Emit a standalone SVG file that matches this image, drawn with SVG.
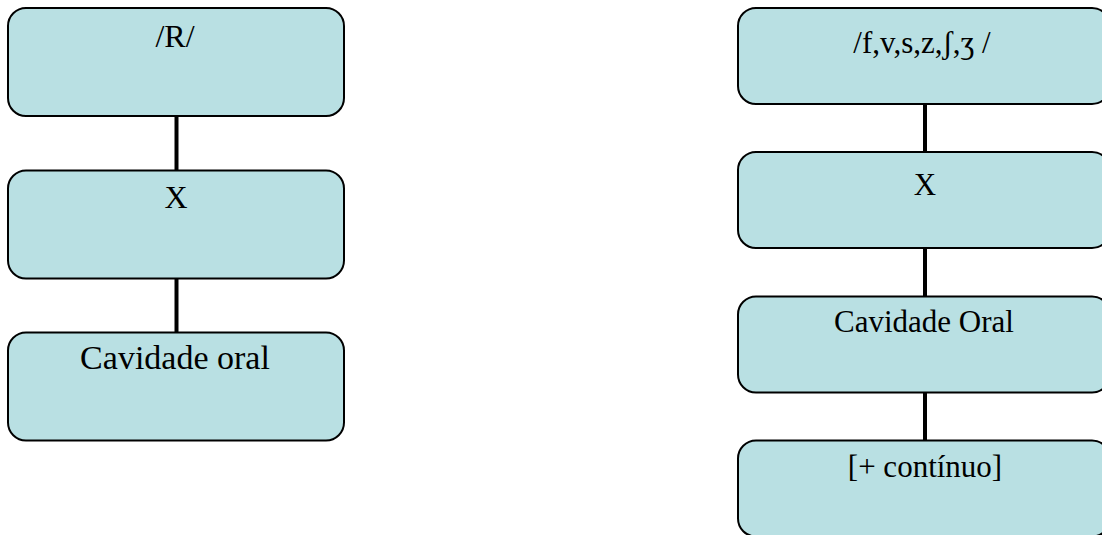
<svg xmlns="http://www.w3.org/2000/svg" width="1102" height="535" viewBox="0 0 1102 535">
<style>
.box{fill:#B9E0E3;stroke:#000;stroke-width:2}
.t{font-family:"Liberation Serif","Times New Roman",serif;fill:#000;text-anchor:middle}
.c{stroke:#000;stroke-width:4;fill:none}
</style>
<rect width="1102" height="535" fill="#fff"/>
<g id="connectors">
<line class="c" x1="176.5" y1="116" x2="176.5" y2="171"/>
<line class="c" x1="176.5" y1="278" x2="176.5" y2="333"/>
<line class="c" x1="925" y1="104" x2="925" y2="152"/>
<line class="c" x1="925" y1="248" x2="925" y2="297"/>
<line class="c" x1="925" y1="392" x2="925" y2="441"/>
</g>
<g id="l1"><rect class="box" x="8" y="8" width="336" height="108" rx="18"/><text class="t" x="175" y="47" font-size="32">/R/</text></g>
<g id="l2"><rect class="box" x="8" y="170.5" width="336" height="108" rx="18"/><text class="t" x="176" y="208" font-size="32">X</text></g>
<g id="l3"><rect class="box" x="8" y="332.5" width="336" height="108" rx="18"/><text class="t" x="175" y="369" font-size="34">Cavidade oral</text></g>
<g id="r1"><rect class="box" x="738" y="8" width="372" height="96" rx="18"/><text class="t" x="922" y="52.5" font-size="31">/f,v,s,z,ʃ,ʒ /</text></g>
<g id="r2"><rect class="box" x="738" y="152" width="372" height="96" rx="18"/><text class="t" x="925" y="195" font-size="31">X</text></g>
<g id="r3"><rect class="box" x="738" y="296.5" width="372" height="96" rx="18"/><text class="t" x="924" y="331.5" font-size="31">Cavidade Oral</text></g>
<g id="r4"><rect class="box" x="738" y="440.5" width="372" height="96" rx="18"/><text class="t" x="925" y="476.5" font-size="31">[+ contínuo]</text></g>
</svg>
